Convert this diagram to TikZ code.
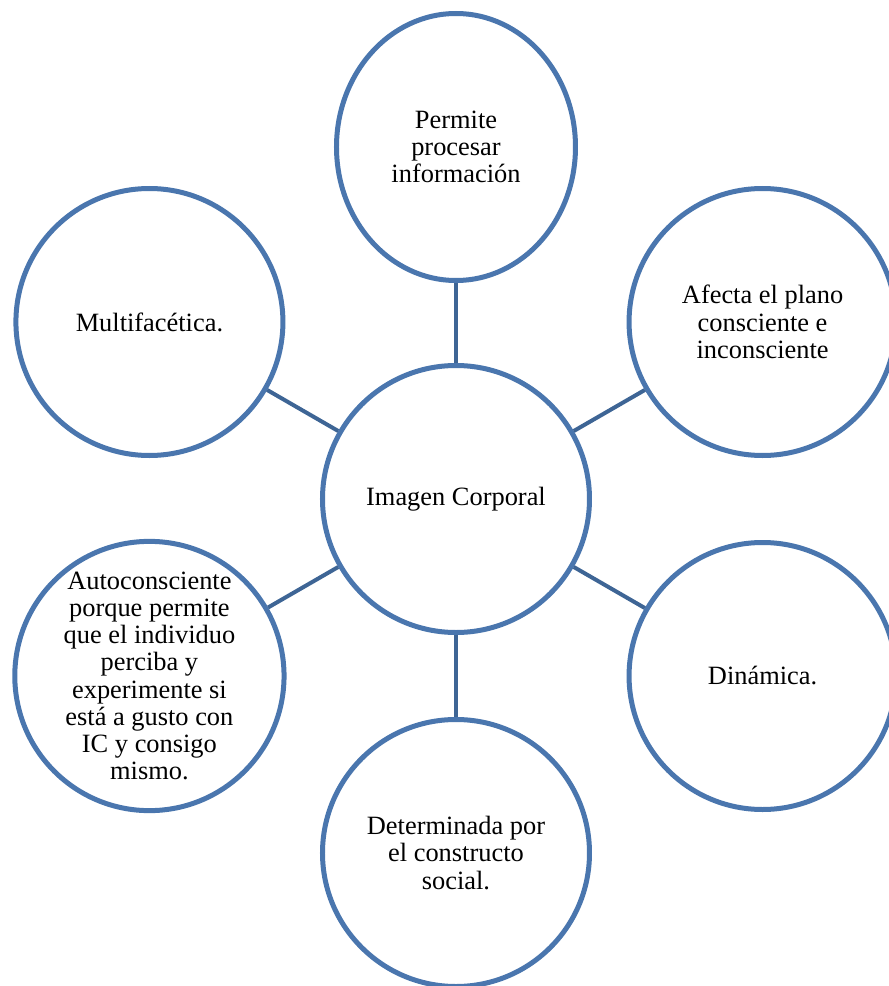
\documentclass[tikz,border=0pt]{standalone}
\usepackage{fontspec}
\setmainfont{Liberation Serif}
\usetikzlibrary{shapes.geometric}
\definecolor{ringblue}{HTML}{4A76AE}
\definecolor{linkblue}{HTML}{3E6595}
\tikzset{
  bubble/.style={circle,draw=ringblue,line width=2.5pt,fill=white,
    minimum size=133.5pt,inner sep=0pt,align=center,
    font=\fontsize{13.2}{13.6}\selectfont},
  link/.style={draw=linkblue,line width=2pt}
}

\begin{document}
\begin{tikzpicture}[x=0.5pt,y=0.5pt]
	\useasboundingbox (-456,-487) rectangle (433,499);
		\node[bubble] (core) at (0,0) {Imagen Corporal};
		\node[bubble,ellipse,minimum width=119.5pt,minimum height=133.5pt] (info) at (0,352)
			{Permite\\procesar\\información};
		\foreach \ang/\name/\txt in {
			30/plano/{Afecta el plano\\consciente e\\inconsciente},
			-30/dinam/{Dinámica.},
			-90/social/{Determinada por\\el constructo\\social.},
			-150/auto/{Autoconsciente\\porque permite\\que el individuo\\perciba y\\experimente si\\está a gusto con\\IC y consigo\\mismo.},
			150/multi/{Multifacética.}}
			\node[bubble] (\name) at (\ang:354) {\txt};
	\foreach \name in {info,plano,dinam,social,auto,multi}
		\draw[link] (core) -- (\name);
\end{tikzpicture}
\end{document}
